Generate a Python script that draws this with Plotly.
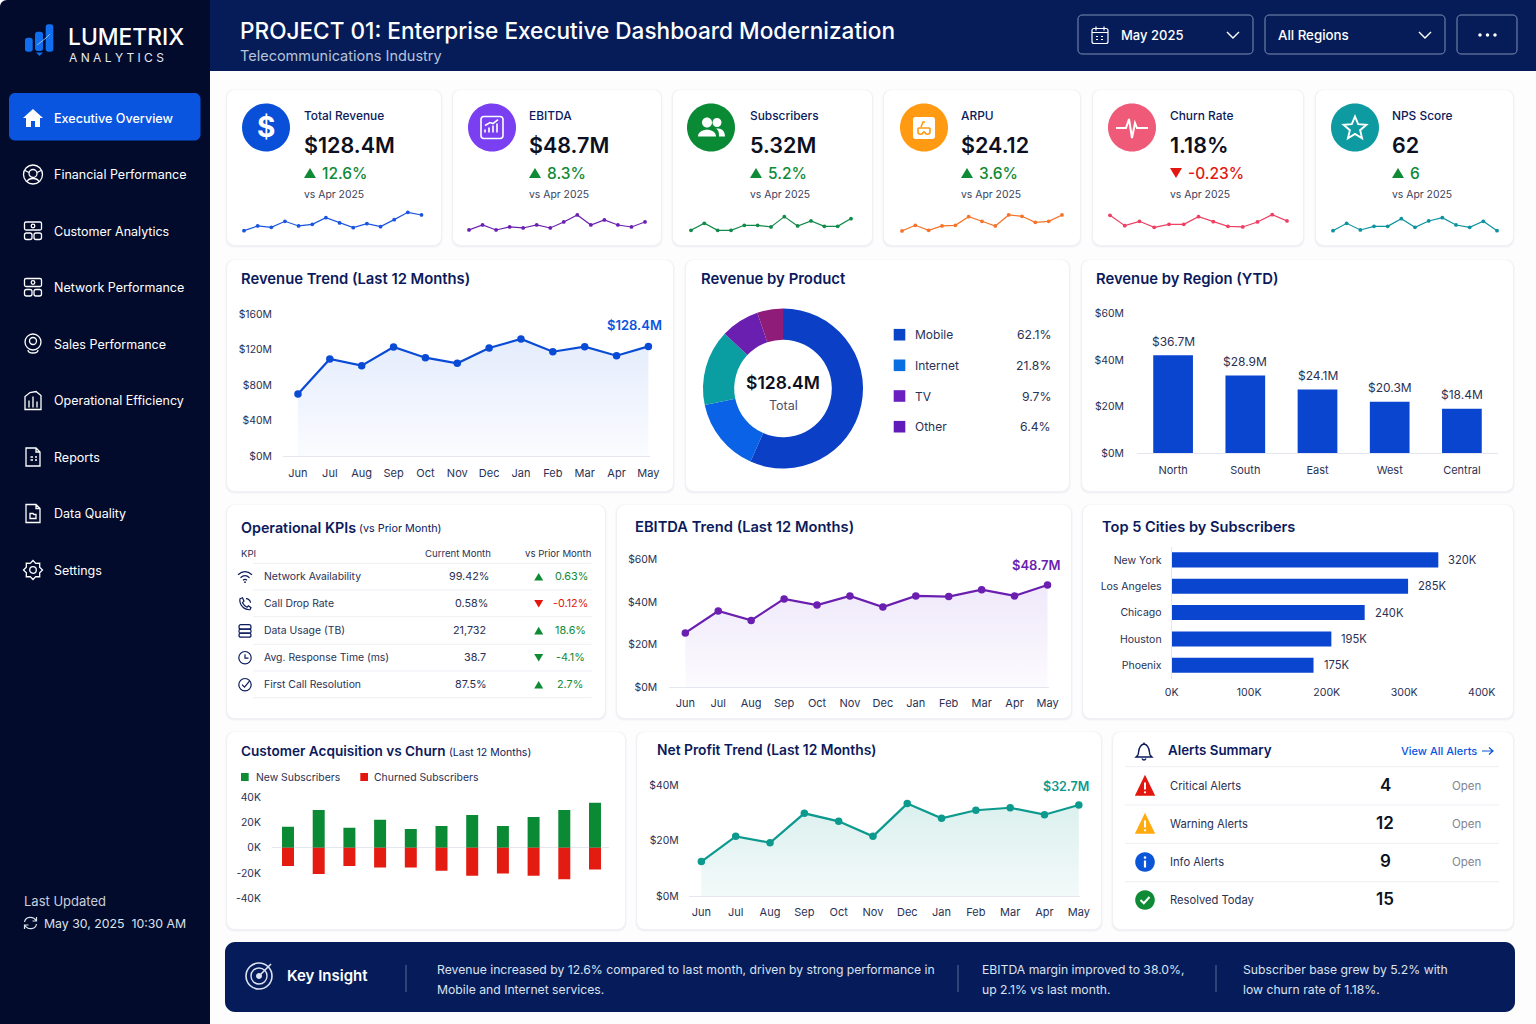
import math
import plotly.graph_objects as go

W, H = 1536, 1024
FONT = "Inter"
NAVY = "#0b1a5c"
INK = "#2a3154"
GREEN = "#0f8a35"
RED = "#e3170f"
BLUE = "#0a4bd6"
PURPLE = "#6a1fb0"
TEAL = "#0d9a8e"

# ---- chart data ----
months = ["Jun", "Jul", "Aug", "Sep", "Oct", "Nov", "Dec", "Jan", "Feb", "Mar", "Apr", "May"]
revenue_trend = [69.9, 109.3, 101.8, 122.8, 110.8, 104.4, 121.7, 131.8, 117.5, 123.2, 113.0, 123.5]
revenue_ticks = [0, 40, 80, 120, 160]
revenue_tick_labels = ["$0M", "$40M", "$80M", "$120M", "$160M"]
ebitda_trend = [25.4, 35.7, 31.3, 41.4, 38.5, 42.8, 37.6, 42.8, 42.5, 45.7, 42.8, 47.9]
ebitda_ticks = [0, 20, 40, 60]
ebitda_tick_labels = ["$0M", "$20M", "$40M", "$60M"]
net_profit_trend = [12.4, 21.5, 19.2, 29.8, 26.9, 21.5, 33.3, 28.0, 30.9, 31.8, 29.3, 32.8]
net_profit_ticks = [0, 20, 40]
net_profit_tick_labels = ["$0M", "$20M", "$40M"]

# the picture draws 11 bar pairs under the 12 month labels
new_subs = [16.6, 30.0, 15.8, 22.2, 14.8, 17.2, 25.9, 17.2, 24.3, 30.0, 35.6]
churned_subs = [-14.5, -20.8, -14.5, -15.6, -15.6, -18.2, -22.2, -20.3, -22.2, -25.0, -17.2]
subs_ticks = [-40, -20, 0, 20, 40]
subs_tick_labels = ["-40K", "-20K", "0K", "20K", "40K"]

product_slices = [56.6, 15.0, 15.3, 7.8, 5.2]
slice_colors = ["#0a3fc6", "#0a62e6", "#0a9ea3", "#6a1fb0", "#8e1c78"]
legend_names = ["Mobile", "Internet", "TV", "Other"]
legend_pcts = ["62.1%", "21.8%", "9.7%", "6.4%"]
legend_colors = ["#0a45c8", "#0a6fe0", "#6a1fc0", "#5f1cb8"]

regions = ["North", "South", "East", "West", "Central"]
region_values = [42.0, 33.3, 27.3, 22.0, 19.0]
region_labels = ["$36.7M", "$28.9M", "$24.1M", "$20.3M", "$18.4M"]
region_ticks = [0, 20, 40, 60]
region_tick_labels = ["$0M", "$20M", "$40M", "$60M"]

cities = ["New York", "Los Angeles", "Chicago", "Houston", "Phoenix"]
city_values = [344, 305, 249, 206, 183]
city_labels = ["320K", "285K", "240K", "195K", "175K"]
city_ticks = [0, 100, 200, 300, 400]
city_tick_labels = ["0K", "100K", "200K", "300K", "400K"]

spark_revenue = [8, 22, 18, 36, 22, 27, 47, 31, 17, 29, 20, 41, 63, 55]
spark_ebitda = [10, 25, 10, 19, 16, 25, 16, 34, 55, 25, 40, 25, 19, 34]
spark_subs = [9, 30, 9, 9, 24, 24, 19, 50, 22, 37, 21, 21, 44]
spark_arpu = [7, 24, 9, 22, 24, 50, 36, 22, 55, 51, 33, 36, 55]
spark_churn = [54, 23, 36, 18, 27, 27, 50, 35, 21, 19, 34, 56, 37]
spark_nps = [8, 30, 10, 21, 21, 44, 18, 37, 47, 25, 18, 36, 8]

kpi_titles = ["Total Revenue", "EBITDA", "Subscribers", "ARPU", "Churn Rate", "NPS Score"]
kpi_values = ["$128.4M", "$48.7M", "5.32M", "$24.12", "1.18%", "62"]
kpi_deltas = ["12.6%", "8.3%", "5.2%", "3.6%", "-0.23%", "6"]
kpi_up = [True, True, True, True, False, True]
kpi_sparks = [spark_revenue, spark_ebitda, spark_subs, spark_arpu, spark_churn, spark_nps]

ops_names = ["Network Availability", "Call Drop Rate", "Data Usage (TB)", "Avg. Response Time (ms)", "First Call Resolution"]
ops_current = ["99.42%", "0.58%", "21,732", "38.7", "87.5%"]
ops_change = ["0.63%", "-0.12%", "18.6%", "-4.1%", "2.7%"]
ops_up = [True, False, True, False, True]
ops_good = [True, False, True, True, True]

alert_names = ["Critical Alerts", "Warning Alerts", "Info Alerts", "Resolved Today"]
alert_counts = ["4", "12", "9", "15"]
alert_status = ["Open", "Open", "Open", ""]

nav_items = ["Executive Overview", "Financial Performance", "Customer Analytics", "Network Performance",
             "Sales Performance", "Operational Efficiency", "Reports", "Data Quality", "Settings"]

# ---- pixel helpers: everything decorative is placed in page pixels ----
shapes = []
annotations = []


def fx(x):
    return x / W


def fy(y):
    return 1 - y / H


def to_paper(path, ox=0, oy=0):
    out = []
    is_x = True
    for tok in path.split():
        if tok.isalpha():
            out.append(tok)
            is_x = True
        elif is_x:
            out.append(f"{fx(float(tok) + ox):.5f}")
            is_x = False
        else:
            out.append(f"{fy(float(tok) + oy):.5f}")
            is_x = True
    return " ".join(out)


def rrect(x0, y0, x1, y1, r):
    k = r * 0.45
    return (f"M {x0 + r} {y0} L {x1 - r} {y0} C {x1 - k} {y0} {x1} {y0 + k} {x1} {y0 + r} "
            f"L {x1} {y1 - r} C {x1} {y1 - k} {x1 - k} {y1} {x1 - r} {y1} "
            f"L {x0 + r} {y1} C {x0 + k} {y1} {x0} {y1 - k} {x0} {y1 - r} "
            f"L {x0} {y0 + r} C {x0} {y0 + k} {x0 + k} {y0} {x0 + r} {y0} Z")


def circ(cx, cy, r):
    k = r * 0.5523
    return (f"M {cx - r} {cy} C {cx - r} {cy - k} {cx - k} {cy - r} {cx} {cy - r} "
            f"C {cx + k} {cy - r} {cx + r} {cy - k} {cx + r} {cy} "
            f"C {cx + r} {cy + k} {cx + k} {cy + r} {cx} {cy + r} "
            f"C {cx - k} {cy + r} {cx - r} {cy + k} {cx - r} {cy} Z")


def draw(path, ox=0, oy=0, fill=None, line=None, width=1.3):
    shapes.append(dict(type="path", xref="paper", yref="paper", layer="below",
                       path=to_paper(path, ox, oy),
                       fillcolor=fill if fill else "rgba(0,0,0,0)",
                       line=dict(color=line if line else "rgba(0,0,0,0)", width=width if line else 0)))


def text(x, y, s, size=12, color=INK, anchor="left", weight=400):
    # annotations sit about a pixel inside their anchor
    if anchor == "left":
        x -= 1
    elif anchor == "right":
        x += 1
    annotations.append(dict(xref="paper", yref="paper", x=fx(x), y=fy(y), text=s, showarrow=False,
                            xanchor=anchor, yanchor="middle", borderpad=0, align=anchor,
                            font=dict(family=FONT, size=size, color=color, weight=weight)))


def card(x0, y0, x1, y1):
    draw(rrect(x0 - 2, y0 - 1, x1 + 2, y1 + 3, 9), fill="rgba(30,45,95,0.025)")
    draw(rrect(x0 - 1, y0, x1 + 1, y1 + 2, 8), fill="rgba(30,45,95,0.035)")
    draw(rrect(x0, y0, x1, y1, 8), fill="#ffffff")


def triangle(cx, cy, up, color, s=6):
    if up:
        draw(f"M {cx - s} {cy + s * 0.85} L {cx + s} {cy + s * 0.85} L {cx} {cy - s * 0.85} Z", fill=color)
    else:
        draw(f"M {cx - s} {cy - s * 0.85} L {cx + s} {cy - s * 0.85} L {cx} {cy + s * 0.85} Z", fill=color)


# ---- subplots: every chart gets its own axis pair placed by pixel box ----
fig = go.Figure()
axis_count = 0
axis_layout = {}


def axes(box, xopts, yopts):
    global axis_count
    axis_count += 1
    n = axis_count
    x0, y0, x1, y1 = box
    axis_layout[f"xaxis{n}"] = dict(domain=[fx(x0), fx(x1)], anchor=f"y{n}", fixedrange=True, automargin=False, **xopts)
    axis_layout[f"yaxis{n}"] = dict(domain=[fy(y1), fy(y0)], anchor=f"x{n}", fixedrange=True, automargin=False, **yopts)
    return f"x{n}", f"y{n}"


def tick_font(size=11):
    return dict(family=FONT, size=size, color=INK)


def trend(box, values, ymax, yticks, ylabels, color, fill_top, fill_bottom, pad_left, pad_right, xlen=7, ylen=8):
    xopts = dict(type="category", categoryorder="array", categoryarray=months, range=[-pad_left, 11 + pad_right],
                 tickmode="array", tickvals=months, ticktext=months, showgrid=False, zeroline=False, showline=True,
                 linecolor="#e4e7f0", linewidth=1, ticks="outside", ticklen=xlen, tickcolor="rgba(0,0,0,0)",
                 tickfont=tick_font(), tickangle=0)
    yopts = dict(range=[0, ymax], tickmode="array", tickvals=yticks, ticktext=ylabels,
                 showgrid=False, zeroline=False, showline=False, ticks="outside", ticklen=ylen,
                 tickcolor="rgba(0,0,0,0)", tickfont=tick_font(10.4))
    xa, ya = axes(box, xopts, yopts)
    fig.add_trace(go.Scatter(x=months, y=values, xaxis=xa, yaxis=ya, mode="lines+markers", cliponaxis=False,
                             line=dict(color=color, width=2.2), marker=dict(color=color, size=7.5),
                             fill="tozeroy",
                             fillgradient=dict(type="vertical",
                                               colorscale=[[0, fill_bottom], [1, fill_top]]),
                             showlegend=False, hoverinfo="skip"))


# ---- page frame ----
draw(f"M 0 7 C 0 3 3 0 7 0 L 210 0 L 210 {H} L 0 {H} Z", fill="#030b2c")
draw(f"M 210 0 L {W} 0 L {W} 71 L 210 71 Z", fill="#051c58")
draw(rrect(9, 93, 200.5, 140.5, 6), fill="#0a55e0")

# logo
draw(rrect(25, 37.7, 32.7, 51.7, 2.5), fill="#0f6ff0")
draw(rrect(35, 31.7, 43, 51, 2.5), fill="#0f6ff0")
draw(rrect(45.7, 24.3, 53.3, 51.7, 2.5), fill="#0f6ff0")
draw("M 36 52.5 L 43 52.5 L 39.5 56 Z", fill="#0f6ff0")
draw("M 37 45 L 46 38 L 50 34", line="#9fb4d8", width=1)
text(68, 36, "LUMETRIX", 22.8, "#ffffff", weight=500)
text(69, 57, "A N A L Y T I C S", 12, "#e4e9f4")

# sidebar
NAV_Y = [118, 174.5, 231, 287.5, 344, 400.5, 457, 513.5, 570]
for i, (label, ny) in enumerate(zip(nav_items, NAV_Y)):
    text(54, ny, label, 12.6 if i == 0 else 12.5, "#ffffff", weight=500 if i == 0 else 400)

draw("M -10 0 L 0 -9 L 10 0 L 7 0 L 7 9 L 2 9 L 2 3 L -2 3 L -2 9 L -7 9 L -7 0 Z", 33, NAV_Y[0], fill="#ffffff")
draw(circ(0, 0, 9.5), 33, NAV_Y[1], line="#ffffff")
draw(circ(0, -1, 4), 33, NAV_Y[1], line="#ffffff")
draw("M -6 7 C -4 3 4 3 6 7 M -8 -4 L -4 -2 M 8 -4 L 4 -2", 33, NAV_Y[1], line="#ffffff")
for ny in (NAV_Y[2], NAV_Y[3]):
    draw(rrect(-8.5, -9, 8.5, -1, 1.5), 33, ny, line="#ffffff")
    draw(rrect(-8.5, 2, -1, 8.5, 2), 33, ny, line="#ffffff")
    draw(rrect(1, 2, 8.5, 8.5, 2), 33, ny, line="#ffffff")
    draw(circ(0, -5, 1.8), 33, ny, line="#ffffff")
draw(circ(0, -2, 8), 33, NAV_Y[4], line="#ffffff")
draw(circ(0, -3, 3.5), 33, NAV_Y[4], line="#ffffff")
draw("M -5 6 C -5 10 5 10 5 6", 33, NAV_Y[4], line="#ffffff")
draw("M -8 9 L -8 -4 L -3 -8 L 3 -9 L 8 -5 L 8 9 Z M -4 7 L -4 0 M 0 7 L 0 -4 M 4 7 L 4 1", 33, NAV_Y[5], line="#ffffff")
for ny in (NAV_Y[6], NAV_Y[7]):
    draw("M -7 -9 L 3 -9 L 7 -5 L 7 9 L -7 9 Z M 3 -9 L 3 -5 L 7 -5", 33, ny, line="#ffffff")
draw("M -2.5 0 L 0 0 M 2 0 L 4 0 M -2.5 3 L 0 3 M 2 3 L 4 3", 33, NAV_Y[6], line="#ffffff")
draw("M -3 0 L 0 0 L 1 1 L 3 1 L 3 5 L -3 5 Z", 33, NAV_Y[7], line="#ffffff")
gear = []
for t in range(16):
    a = t * math.pi / 8
    r = 9.5 if t % 2 == 0 else 7.2
    gear.append(f"{'M' if t == 0 else 'L'} {r * math.cos(a):.2f} {r * math.sin(a):.2f}")
draw(" ".join(gear) + " Z", 33, NAV_Y[8], line="#ffffff")
draw(circ(0, 0, 3.3), 33, NAV_Y[8], line="#ffffff")

text(24, 901, "Last Updated", 13, "#c8cfdd")
text(44, 923, "May 30, 2025&nbsp;&nbsp;10:30 AM", 12.3, "#dde2ec")
draw("M -6 -1 C -5 -7 3 -7 6 -2 M 6 1 C 5 7 -3 7 -6 2 M 6 -6 L 6 -2 L 2 -2 M -6 6 L -6 2 L -2 2", 30.5, 923, line="#dde2ec", width=1.2)

# header
text(240, 30, "PROJECT 01: Enterprise Executive Dashboard Modernization", 22.6, "#ffffff", weight=500)
text(240, 55, "Telecommunications Industry", 14.5, "#b7c2d9")
draw(rrect(1078, 15, 1253, 54, 4), line="#7f8fb2", width=1)
draw(rrect(1265, 15, 1445, 54, 4), line="#7f8fb2", width=1)
draw(rrect(1457, 15, 1517, 54, 4), line="#7f8fb2", width=1)
text(1121, 35, "May 2025", 13, "#ffffff", weight=500)
text(1278, 35, "All Regions", 13.3, "#ffffff", weight=500)
draw(rrect(-8, -7, 8, 8, 2), 1100, 35.5, line="#ffffff", width=1.2)
draw("M -8 -3 L 8 -3 M -4 -9 L -4 -5 M 4 -9 L 4 -5 M -4 1 L -2 1 M 1 1 L 3 1 M -4 4 L -2 4 M 1 4 L 3 4", 1100, 35.5, line="#ffffff", width=1.2)
for cx in (1233, 1425):
    draw("M -6 -3 L 0 3 L 6 -3", cx, 35, line="#ffffff", width=1.4)
for cx in (1480, 1487.5, 1495):
    draw(circ(cx, 35, 1.7), fill="#ffffff")

# ---- KPI row ----
KPI_BOXES = [(227, 441), (453, 661), (673, 872), (884, 1080), (1093, 1303), (1316, 1513)]
KPI_ICON_X = [266, 492, 711, 924, 1132, 1355]
KPI_TEXT_X = [304, 529, 750, 961, 1170, 1392]
KPI_COLORS = ["#0a4fd8", "#7a3ff0", "#0a8a35", "#ff9a12", "#ef5a78", "#0d9aa0"]
SPARK_COLORS = ["#1a55e0", "#6a1fb0", "#128a4a", "#f5742a", "#ef3f62", "#0d93a0"]
SPARK_X = [(244, 421.5), (469, 645), (691, 851), (902, 1062), (1110, 1287), (1333, 1497)]

for i in range(6):
    x0, x1 = KPI_BOXES[i]
    card(x0, 90, x1, 245)
    draw(circ(KPI_ICON_X[i], 127.5, 24), fill=KPI_COLORS[i])
    tx = KPI_TEXT_X[i]
    text(tx, 115, kpi_titles[i], 11.9, NAVY, weight=500)
    text(tx, 145, kpi_values[i], 21.5, "#0c1020", weight=600)
    col = GREEN if kpi_up[i] else RED
    triangle(tx + 6, 173, kpi_up[i], col)
    text(tx + 18, 173.5, kpi_deltas[i], 15.5, col, weight=500)
    text(tx, 194.5, "vs Apr 2025", 10.4, "#3b4260")
    sx0, sx1 = SPARK_X[i]
    data = kpi_sparks[i]
    xa, ya = axes((sx0, 208.3, sx1, 233.3), dict(visible=False, range=[0, len(data) - 1]), dict(visible=False, range=[0, 75]))
    fig.add_trace(go.Scatter(x=list(range(len(data))), y=data, xaxis=xa, yaxis=ya, mode="lines+markers", cliponaxis=False,
                             line=dict(color=SPARK_COLORS[i], width=1.2), marker=dict(color=SPARK_COLORS[i], size=3.8),
                             showlegend=False, hoverinfo="skip"))

# KPI icons
text(266, 127, "$", 28, "#ffffff", "center", 700)
draw(rrect(-11, -11, 11, 11, 3), 492, 127.5, line="#ffffff", width=1.6)
draw("M -7 5 L -7 2 M -3 5 L -3 0 M 1 5 L 1 -2 M 5 5 L 5 -4 M -7 -2 L -2 -5 L 1 -4 L 6 -8", 492, 127.5, line="#ffffff", width=1.6)
draw(circ(-4, -5, 5), 711, 127.5, fill="#ffffff")
draw(circ(6, -5, 4.5), 711, 127.5, fill="#ffffff")
draw("M -13 9 C -13 0 5 0 5 9 Z M 7 1 C 12 1 14 5 14 9 L 8 9 C 8 6 8 3 5 1 Z", 711, 127.5, fill="#ffffff")
draw(rrect(-11, -11, 11, 11, 2.5), 924, 128, fill="#ffffff")
draw("M -6 0 L 6 0 M -6 0 L -6 4 C -6 7 -1 7 -1 4 M 6 0 L 6 4 C 6 7 1 7 1 4 M -1 4 L 1 4 M -3 -1 L -1 -6 L 1 -6", 924, 128, line="#ff9a12", width=1.6)
draw("M -16 0 L -6 0 L -3 -9 L 0 10 L 3 -5 L 5 0 L 16 0", 1132, 128, line="#ffffff", width=2)
star = []
for t in range(10):
    a = -math.pi / 2 + t * math.pi / 5
    r = 12 if t % 2 == 0 else 5.4
    star.append(f"{'M' if t == 0 else 'L'} {r * math.cos(a):.2f} {r * math.sin(a):.2f}")
draw(" ".join(star) + " Z", 1355, 128.5, line="#ffffff", width=1.9)

# ---- second row ----
card(227, 260, 673, 491)
card(686, 260, 1069, 491)
card(1082, 260, 1513, 491)
text(241, 279, "Revenue Trend (Last 12 Months)", 14.8, NAVY, weight=600)
text(701, 279, "Revenue by Product", 14.9, NAVY, weight=600)
text(1096, 279, "Revenue by Region (YTD)", 14.8, NAVY, weight=600)
trend((283, 314, 650, 456), revenue_trend, 160, revenue_ticks, revenue_tick_labels, BLUE,
      "rgba(10,80,225,0.11)", "rgba(10,80,225,0.02)", 0.47, 0.05)
text(662, 325, "$128.4M", 13, "#0a55e0", "right", 600)

fig.add_trace(go.Pie(values=product_slices, marker=dict(colors=slice_colors, line=dict(width=0)), hole=0.61, sort=False,
                     direction="clockwise", rotation=0, textinfo="none", hoverinfo="skip", showlegend=False,
                     domain=dict(x=[fx(703), fx(863)], y=[fy(468.5), fy(308.5)])))
text(783, 382, "$128.4M", 17.5, "#0c1020", "center", 600)
text(783, 405, "Total", 12.5, "#4a5068", "center")
for name, pct, col, ly in zip(legend_names, legend_pcts, legend_colors, [334.7, 365.3, 396, 426.7]):
    draw(f"M 893.7 {ly - 5.8} L 905.3 {ly - 5.8} L 905.3 {ly + 5.8} L 893.7 {ly + 5.8} Z", fill=col)
    text(915, ly, name, 12, INK)
    text(1051, ly, pct, 12.2, INK, "right")

xa, ya = axes((1137, 313.5, 1498, 453),
              dict(type="category", range=[-0.5, 4.5], showgrid=False, zeroline=False, showline=True, linecolor="#e4e7f0",
                   ticks="outside", ticklen=7, tickcolor="rgba(0,0,0,0)", tickfont=tick_font(), tickangle=0),
              dict(range=[0, 60], tickmode="array", tickvals=region_ticks, ticktext=region_tick_labels,
                   showgrid=False, zeroline=False, ticks="outside", ticklen=10, tickcolor="rgba(0,0,0,0)", tickfont=tick_font(10.4)))
fig.add_trace(go.Bar(x=regions, y=region_values, xaxis=xa, yaxis=ya, marker=dict(color="#0a45d0", line=dict(width=0)), width=0.55,
                     showlegend=False, hoverinfo="skip"))
for name, val, label in zip(regions, region_values, region_labels):
    annotations.append(dict(xref=xa, yref=ya, x=name, y=val, yshift=14, text=label, showarrow=False, xanchor="center", yanchor="middle",
                            font=tick_font(12), borderpad=0))

# ---- third row ----
card(227, 505, 605, 718)
card(617, 505, 1071, 718)
card(1083, 505, 1513, 718)
text(241, 527, "Operational KPIs", 14.3, NAVY, weight=600)
text(359, 528, "(vs Prior Month)", 10.8, NAVY)
text(241, 553, "KPI", 9.6, INK)
text(491, 553, "Current Month", 9.6, INK, "right")
text(591, 553, "vs Prior Month", 9.6, INK, "right")
OPS_Y = [576.7, 603.7, 630.7, 657.7, 684.7]
OPS_CUR_R = [489, 488, 486, 486, 487]
OPS_CHG_R = [588, 588, 586, 585.3, 583.3]
for ly in [563.3, 590, 616.7, 644.3, 671, 697.7]:
    draw(f"M 253 {ly} L 591.7 {ly}", line="#eef0f5", width=1)
for i in range(5):
    text(264, OPS_Y[i], ops_names[i], 10.4, INK)
    text(OPS_CUR_R[i], OPS_Y[i], ops_current[i], 10.8, INK, "right")
    col = GREEN if ops_good[i] else RED
    triangle(538.7, OPS_Y[i], ops_up[i], col, 4.5)
    text(OPS_CHG_R[i], OPS_Y[i], ops_change[i], 10.8, col, "right")
# small table icons
draw("M -7 -2 Q 0 -8 7 -2 M -4.5 1 Q 0 -3 4.5 1 M -2 3.5 Q 0 2 2 3.5", 245, OPS_Y[0], line=NAVY, width=1.2)
draw(circ(245, OPS_Y[0] + 5.5, 0.9), fill=NAVY)
draw("M -5 -5 L -2.5 -6 L -1 -2.5 L -2.5 -1 C -1.5 1 0 2.5 2 3.5 L 3.5 2 L 6 4 L 5 6 C -1 6.5 -6 1 -5 -5 Z M 1 -5 C 3.5 -5 5.5 -3 5.5 -1", 245, OPS_Y[1], line=NAVY, width=1.2)
draw(rrect(-6, -6, 6, -1.5, 2), 245, OPS_Y[2], line=NAVY, width=1.2)
draw(rrect(-6, -1.5, 6, 2.5, 1.5), 245, OPS_Y[2], line=NAVY, width=1.2)
draw(rrect(-6, 2.5, 6, 6.5, 2), 245, OPS_Y[2], line=NAVY, width=1.2)
draw(circ(0, 0, 6.2), 245, OPS_Y[3], line=NAVY, width=1.2)
draw("M 0 -3.5 L 0 0.5 L 3.5 0.5", 245, OPS_Y[3], line=NAVY, width=1.2)
draw(circ(0, 0, 6.2), 245, OPS_Y[4], line=NAVY, width=1.2)
draw("M -3 0 L -0.5 2.5 L 4.5 -3.5", 245, OPS_Y[4], line=NAVY, width=1.2)

text(635, 527, "EBITDA Trend (Last 12 Months)", 14.7, NAVY, weight=600)
trend((669.3, 559.3, 1048.5, 687), ebitda_trend, 60, ebitda_ticks, ebitda_tick_labels, PURPLE,
      "rgba(110,50,210,0.11)", "rgba(110,50,210,0.02)", 0.486, 0.03, xlen=6, ylen=9)
text(1061, 565, "$48.7M", 13, PURPLE, "right", 600)

text(1102, 527, "Top 5 Cities by Subscribers", 14.6, NAVY, weight=600)
xa, ya = axes((1171.7, 546.7, 1481.7, 678.5),
              dict(range=[0, 400], tickmode="array", tickvals=city_ticks, ticktext=city_tick_labels, showgrid=False, zeroline=False,
                   ticks="outside", ticklen=4, tickcolor="rgba(0,0,0,0)", tickfont=tick_font(10.6)),
              dict(type="category", categoryorder="array", categoryarray=cities, range=[4.5, -0.5], showgrid=False, zeroline=False,
                   showline=True, linecolor="#e4e7f0", ticks="outside", ticklen=7, tickcolor="rgba(0,0,0,0)", tickfont=tick_font(10.5)))
fig.add_trace(go.Bar(y=cities, x=city_values, orientation="h", xaxis=xa, yaxis=ya, marker=dict(color="#0a45d0", line=dict(width=0)), width=0.57,
                     showlegend=False, hoverinfo="skip"))
for name, val, label in zip(cities, city_values, city_labels):
    annotations.append(dict(xref=xa, yref=ya, x=val, y=name, xshift=9, text=label, showarrow=False, xanchor="left", yanchor="middle",
                            font=tick_font(11.2), borderpad=0))

# ---- fourth row ----
card(227, 732, 625, 929)
card(637, 732, 1101, 929)
card(1113, 732, 1513, 929)
text(241, 751, "Customer Acquisition vs Churn", 13.6, NAVY, weight=600)
text(449, 752, "(Last 12 Months)", 10.5, NAVY)
draw("M 241 773 L 248.7 773 L 248.7 781 L 241 781 Z", fill=GREEN)
text(255.5, 777, "New Subscribers", 10.4, INK)
draw("M 360.3 773 L 368 773 L 368 781 L 360.3 781 Z", fill=RED)
text(374, 777, "Churned Subscribers", 10.4, INK)

# month labels sit on their own axis pair, the 11 bar pairs on another
acq_box = (272, 797.3, 609, 898.3)
axes(acq_box,
     dict(range=[(272 - 286) / 28.1, (609 - 286) / 28.1], tickmode="array", tickvals=list(range(12)), ticktext=months,
          showgrid=False, zeroline=False, showline=True, linecolor="#e4e7f0", ticks="outside", ticklen=6,
          tickcolor="rgba(0,0,0,0)", tickfont=tick_font(), tickangle=0),
     dict(visible=False, range=[-40, 40]))
xa, ya = axes(acq_box,
              dict(visible=False, range=[(272 - 288) / 30.7, (609 - 288) / 30.7]),
              dict(range=[-40, 40], tickmode="array", tickvals=subs_ticks, ticktext=subs_tick_labels, showgrid=False,
                   zeroline=True, zerolinecolor="#e4e7f0", zerolinewidth=1, ticks="outside", ticklen=8,
                   tickcolor="rgba(0,0,0,0)", tickfont=tick_font(10.4)))
slots = list(range(len(new_subs)))
fig.add_trace(go.Bar(x=slots, y=new_subs, xaxis=xa, yaxis=ya, marker=dict(color="#0b8a35", line=dict(width=0)), width=0.39,
                     showlegend=False, hoverinfo="skip"))
fig.add_trace(go.Bar(x=slots, y=churned_subs, xaxis=xa, yaxis=ya, marker=dict(color="#e31b10", line=dict(width=0)), width=0.39,
                     showlegend=False, hoverinfo="skip"))

text(657, 750, "Net Profit Trend (Last 12 Months)", 13.8, NAVY, weight=600)
trend((688.7, 785, 1079.5, 896), net_profit_trend, 40, net_profit_ticks, net_profit_tick_labels, TEAL,
      "rgba(13,154,142,0.15)", "rgba(13,154,142,0.05)", 0.37, 0.02, xlen=6, ylen=7)
text(1089, 786, "$32.7M", 12.5, TEAL, "right", 600)

# alerts panel
draw("M -6 4 C -5 1 -6 -6 0 -7 C 6 -6 5 1 6 4 L 8 6 L -8 6 Z M -2 7.5 C -1 9.5 1 9.5 2 7.5 M 0 -7 L 0 -8.5", 1144, 751, line=NAVY, width=1.4)
text(1167.5, 750, "Alerts Summary", 13.3, NAVY, weight=600)
text(1401, 751, "View All Alerts", 11, "#0a55e0", weight=500)
draw("M 1482 751 L 1493 751 M 1489 747.5 L 1493 751 L 1489 754.5", line="#0a55e0", width=1.2)
for ly in [766.7, 805, 843.3, 881.7]:
    draw(f"M 1125 {ly} L 1499 {ly}", line="#eef0f5", width=1)
ALERT_Y = [786, 824, 862, 900]
for i in range(4):
    text(1169.5, ALERT_Y[i], alert_names[i], 11.2, INK)
    text(1385, ALERT_Y[i] - 1.5, alert_counts[i], 17, "#0c1020", "center", 600)
    if alert_status[i]:
        text(1466, ALERT_Y[i], alert_status[i], 11.5, "#808694", "center")
draw("M -9 9 L 0 -9.5 L 9 9 Z", 1145, 786, fill="#e3170f", line="#e3170f", width=1.5)
draw("M -9 9 L 0 -9.5 L 9 9 Z", 1145, 824, fill="#ffab0f", line="#ffab0f", width=1.5)
for ay in (786, 824):
    draw("M 0 -3.5 L 0 3.5", 1145, ay, line="#ffffff", width=2)
    draw(circ(1145, ay + 6.3, 1.1), fill="#ffffff")
draw(circ(1145, 862, 9.8), fill="#0a55d8")
draw(circ(1145, 857.5, 1.3), fill="#ffffff")
draw("M 0 -1.5 L 0 5.5", 1145, 862, line="#ffffff", width=2.2)
draw(circ(1145, 900, 9.8), fill="#0f8a35")
draw("M -4.5 0 L -1.2 3.2 L 4.5 -3", 1145, 900, line="#ffffff", width=2)

# key insight banner
draw(rrect(225, 942, 1515, 1012, 10), fill="#061c5a")
draw(circ(259, 976, 13), line="#dbe2f0", width=1.6)
draw(circ(259, 976, 8), line="#dbe2f0", width=1.4)
draw(circ(259, 976, 3), fill="#dbe2f0")
draw("M 259 976 L 271 964", line="#dbe2f0", width=1.6)
text(287, 975, "Key Insight", 15, "#ffffff", weight=600)
for dx in (406, 958, 1216):
    draw(f"M {dx} 965 L {dx} 992", line="#5a6a95", width=1)
text(437, 969, "Revenue increased by 12.6% compared to last month, driven by strong performance in", 12.2, "#dbe2f0")
text(437, 989, "Mobile and Internet services.", 12.2, "#dbe2f0")
text(982, 969, "EBITDA margin improved to 38.0%,", 12.2, "#dbe2f0")
text(982, 989, "up 2.1% vs last month.", 12.2, "#dbe2f0")
text(1243, 969, "Subscriber base grew by 5.2% with", 12.2, "#dbe2f0")
text(1243, 989, "low churn rate of 1.18%.", 12.2, "#dbe2f0")

fig.update_layout(width=W, height=H, margin=dict(l=0, r=0, t=0, b=0, pad=0), paper_bgcolor="#fdfdfe", plot_bgcolor="rgba(0,0,0,0)",
                  barmode="relative", showlegend=False, font=dict(family=FONT), shapes=shapes, annotations=annotations,
                  **axis_layout)

fig.write_html("out.html", config=dict(displayModeBar=False, staticPlot=True),
               post_script="document.body.style.margin='0';document.body.style.overflow='hidden';")
